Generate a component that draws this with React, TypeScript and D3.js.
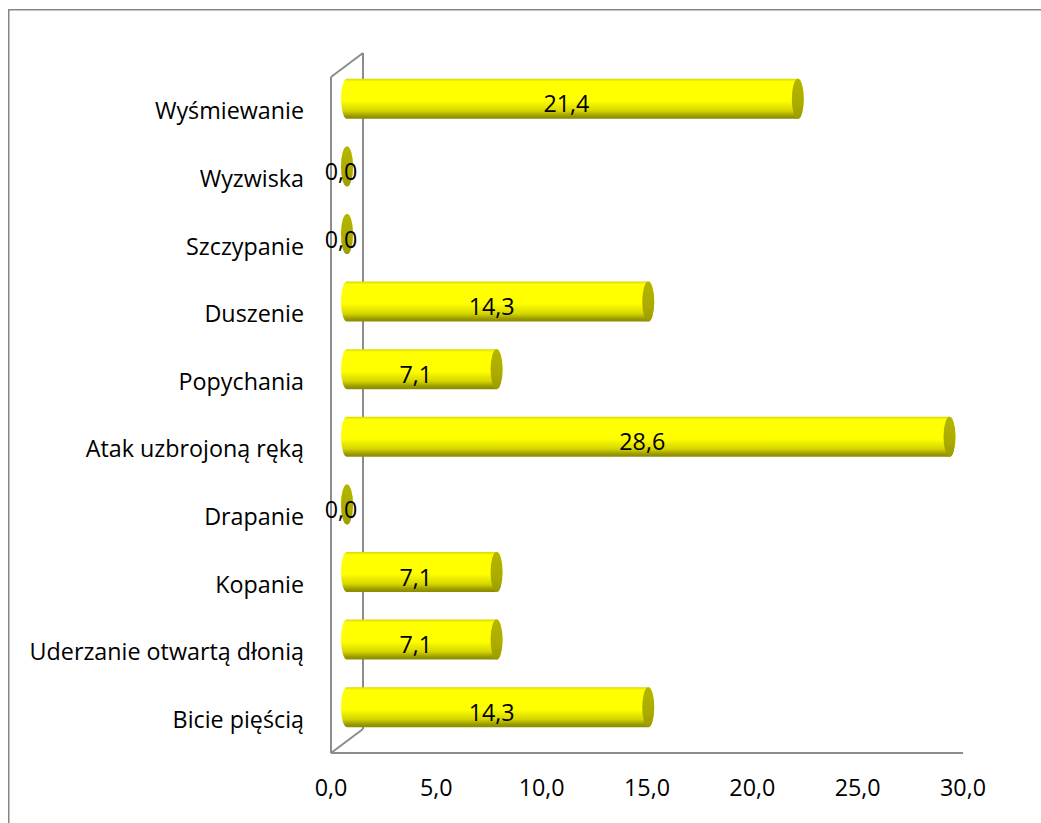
import React from "react";
import * as d3 from "d3";

const categories = [
  "Wyśmiewanie",
  "Wyzwiska",
  "Szczypanie",
  "Duszenie",
  "Popychania",
  "Atak uzbrojoną ręką",
  "Drapanie",
  "Kopanie",
  "Uderzanie otwartą dłonią",
  "Bicie pięścią",
];
const values = [21.4, 0.0, 0.0, 14.3, 7.1, 28.6, 0.0, 7.1, 7.1, 14.3];
const xTicks = [0, 5, 10, 15, 20, 25, 30];

const W = 1041;
const H = 823;
const FONT = "'Open Sans', 'Noto Sans', sans-serif";
const FS = 23.3;

export default function App() {
  const x = d3.scaleLinear().domain([0, 30]).range([331, 963]);
  const y = d3.scaleBand<string>().domain(categories).range([77, 753]).paddingInner(0).paddingOuter(0);
  const depthX = 32;
  const depthY = -24;
  const midX = depthX / 2;
  const midY = depthY / 2;
  const rx = 6;
  const ry = 20;
  const fmt = (v: number) => d3.format(".1f")(v).replace(".", ",");
  const axisColor = "#8c8c8c";
  const x0 = x(0);
  const yTop = y.range()[0];
  const yBot = y.range()[1];

  return (
    <svg
      width={W}
      height={H}
      style={{ position: "absolute", left: 0, top: 0, background: "#fff" }}
      fontFamily={FONT}
    >
      <defs>
        <linearGradient id="cyl" x1="0" y1="0" x2="0" y2="1">
          <stop offset="0" stopColor="#d8d800" />
          <stop offset="0.07" stopColor="#ffff00" />
          <stop offset="0.55" stopColor="#ffff00" />
          <stop offset="0.8" stopColor="#d6d600" />
          <stop offset="0.93" stopColor="#9a9a00" />
          <stop offset="1" stopColor="#8a8a00" />
        </linearGradient>
        <linearGradient id="cap" x1="0" y1="0" x2="0" y2="1">
          <stop offset="0" stopColor="#b4b400" />
          <stop offset="0.6" stopColor="#acac00" />
          <stop offset="1" stopColor="#9c9c00" />
        </linearGradient>
      </defs>

      {/* outer chart border */}
      <rect x={8.75} y={9.75} width={W + 20} height={H + 20} fill="none" stroke="#868686" strokeWidth={1.5} />

      {/* 3D axis frame */}
      <g stroke={axisColor} strokeWidth={2} fill="none">
        <line x1={x0} y1={yTop} x2={x0} y2={yBot} />
        <line x1={x0 + depthX} y1={yTop + depthY} x2={x0 + depthX} y2={yBot + depthY} />
        <line x1={x0} y1={yTop} x2={x0 + depthX} y2={yTop + depthY} />
        <line x1={x0} y1={yBot} x2={x0 + depthX} y2={yBot + depthY} />
        <line x1={x0} y1={yBot} x2={x(30)} y2={yBot} />
      </g>

      {/* bars */}
      {categories.map((c, i) => {
        const v = values[i];
        const cy = (y(c) as number) + y.bandwidth() / 2 + midY;
        const bx0 = x(0) + midX;
        const bx1 = x(v) + midX;
        const body = `M${bx0},${cy - ry} L${bx1},${cy - ry} A${rx},${ry} 0 0 1 ${bx1},${cy + ry} L${bx0},${cy + ry} A${rx},${ry} 0 0 1 ${bx0},${cy - ry} Z`;
        return (
          <g key={c}>
            <path d={body} fill="url(#cyl)" />
            <ellipse cx={bx1} cy={cy} rx={rx} ry={ry} fill="url(#cap)" />
            <text
              x={(bx0 + bx1) / 2 - 6}
              y={cy + 13.5}
              textAnchor="middle"
              fontSize={FS}
              fill="#000"
            >
              {fmt(v)}
            </text>
          </g>
        );
      })}

      {/* category labels */}
      {categories.map((c) => (
        <text
          key={c}
          x={304}
          y={(y(c) as number) + y.bandwidth() / 2 + 8.5}
          textAnchor="end"
          fontSize={FS}
          fill="#000"
        >
          {c}
        </text>
      ))}

      {/* x tick labels */}
      {xTicks.map((t) => (
        <text key={t} x={x(t)} y={796} textAnchor="middle" fontSize={FS} fill="#000">
          {fmt(t)}
        </text>
      ))}
    </svg>
  );
}
